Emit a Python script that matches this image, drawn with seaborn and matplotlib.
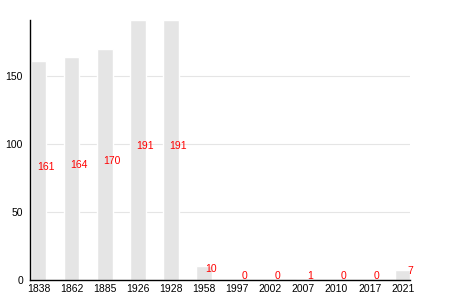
import matplotlib
matplotlib.use("Agg")
import matplotlib.pyplot as plt
import seaborn as sns
import pandas as pd

years = ["1838", "1862", "1885", "1926", "1928", "1958", "1997", "2002", "2007", "2010", "2017", "2021"]
values = [161, 164, 170, 191, 191, 10, 0, 0, 1, 0, 0, 7]
yticks = [0, 50, 100, 150]

sns.set_theme(style="white")
plt.rcParams['font.family'] = ['Liberation Sans', 'DejaVu Sans']

df = pd.DataFrame({"year": years, "value": values})

fig = plt.figure(figsize=(4.5, 3), dpi=100)
ax = fig.add_axes([30/450, 20/300, 380/450, 260/300])
sns.barplot(data=df, x="year", y="value", color="#e5e5e5", width=0.47,
            saturation=1, ax=ax, zorder=2)
ax.set_xlim(-0.26, 11.22)
ax.set_ylim(0, 191)
ax.set_yticks(yticks)
ax.set_xlabel("")
ax.set_ylabel("")
ax.yaxis.grid(True, color="#e5e5e5", linewidth=0.8, zorder=0)
ax.set_axisbelow(True)
for s in ["top", "right"]:
    ax.spines[s].set_visible(False)
for s in ["left", "bottom"]:
    ax.spines[s].set_color("black")
    ax.spines[s].set_linewidth(1)
ax.tick_params(axis="y", length=3, width=0.8, color="black", labelsize=7.5,
               labelcolor="black", pad=2)
ax.tick_params(axis="x", length=0, labelsize=7.5, labelcolor="black", pad=3)

for i, v in enumerate(values):
    ax.annotate(str(v), (i, v / 2), xytext=(5.2, 2.7), textcoords="offset points",
                ha="center", va="center", color="#ff0000", fontsize=7.5)

fig.savefig("out.png", dpi=100)
